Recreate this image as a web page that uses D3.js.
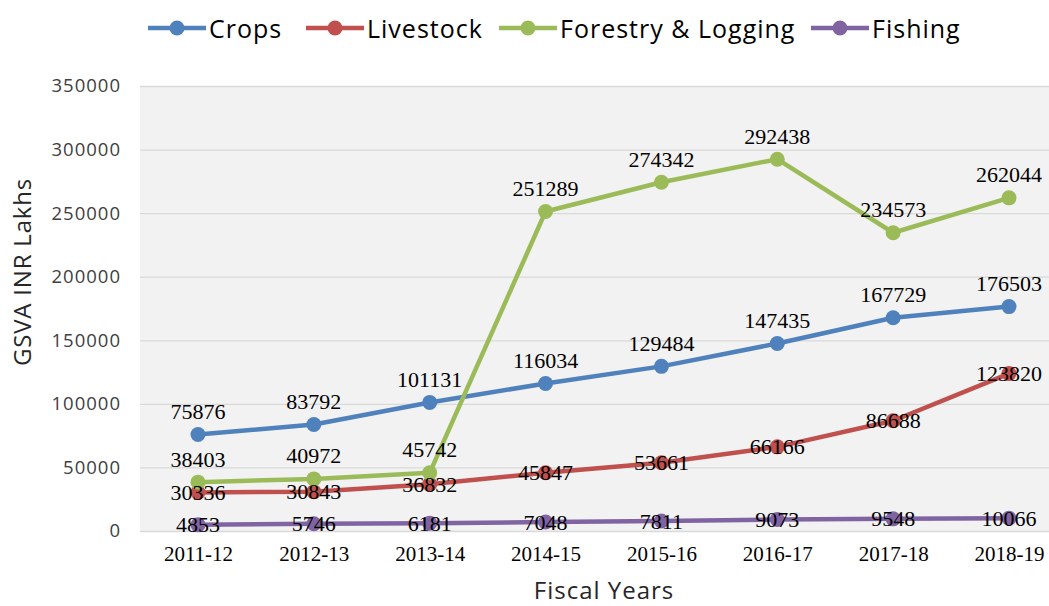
<!DOCTYPE html>
<html lang="en">
    <head>
        <meta charset="utf-8">
        <title>GSVA by sector</title>
        <script src="https://cdn.jsdelivr.net/npm/d3@7"></script>
        <style type="text/css">
            body { margin: 0; background: #fff; }
        </style>
    </head>
    <body>
        <script type="text/javascript">
            // data
            var years = ['2011-12', '2012-13', '2013-14', '2014-15', '2015-16', '2016-17', '2017-18', '2018-19'];
            var crops = [75876, 83792, 101131, 116034, 129484, 147435, 167729, 176503];
            var livestock = [30336, 30843, 36832, 45847, 53661, 66166, 86688, 123820];
            var forestry = [38403, 40972, 45742, 251289, 274342, 292438, 234573, 262044];
            var fishing = [4853, 5746, 6181, 7048, 7811, 9073, 9548, 10066];
            var yTicks = [0, 50000, 100000, 150000, 200000, 250000, 300000, 350000];

            var series = [
              {name: 'Crops', values: crops, color: '#4f81bd', label: 'above'},
              {name: 'Livestock', values: livestock, color: '#c0504d', label: 'center'},
              {name: 'Forestry & Logging', values: forestry, color: '#9bbb59', label: 'above'},
              {name: 'Fishing', values: fishing, color: '#8064a2', label: 'center'}
            ];

            var w = 1049;
            var h = 606;
            // plot area edges (note: "top" clashes with window.top)
            var plotLeft = 140, plotTop = 86, plotBottom = 531;

            var svg = d3.select('body').append('svg')
                        .attr('width', w)
                        .attr('height', h);

            var xScale = d3.scalePoint()
                          .domain(years)
                          .range([198, 1009]);
            var yScale = d3.scaleLinear()
                          .domain([0, 350000])
                          .range([plotBottom, plotTop]);

            // plot area
            svg.append('rect')
               .attr('x', plotLeft).attr('y', plotTop)
               .attr('width', w - plotLeft).attr('height', plotBottom - plotTop)
               .attr('fill', '#f2f2f2');

            // gridlines + y tick labels
            var yAxis = d3.axisLeft(yScale)
                          .tickValues(yTicks)
                          .tickSize(-(w - plotLeft))
                          .tickPadding(19)
                          .tickFormat(d3.format('d'));
            var gy = svg.append('g')
                        .attr('transform', 'translate(' + plotLeft + ',0)')
                        .call(yAxis);
            gy.select('.domain').remove();
            gy.selectAll('line').attr('stroke', '#d9d9d9').attr('stroke-width', 1.3);
            gy.selectAll('text')
              .attr('fill', '#404040')
              .attr('font-family', 'Open Sans, sans-serif')
              .attr('font-size', '18.5px')
              .attr('letter-spacing', '1px');

            // x axis labels
            var xAxis = d3.axisBottom(xScale).tickSize(0).tickPadding(15);
            var gx = svg.append('g')
                        .attr('transform', 'translate(0,' + plotBottom + ')')
                        .call(xAxis);
            gx.select('.domain').remove();
            gx.selectAll('text')
              .attr('fill', '#000')
              .attr('font-family', 'Liberation Serif, serif')
              .attr('font-size', '21px');

            // lines, markers
            var line = d3.line()
                         .x(function(d, i) { return xScale(years[i]); })
                         .y(function(d) { return yScale(d); });

            series.forEach(function(s) {
              var g = svg.append('g');
              g.append('path')
               .datum(s.values)
               .attr('d', line)
               .attr('fill', 'none')
               .attr('stroke', s.color)
               .attr('stroke-width', 4.5)
               .attr('stroke-linejoin', 'round');

              g.selectAll('circle')
               .data(s.values)
               .enter()
               .append('circle')
               .attr('cx', function(d, i) { return xScale(years[i]); })
               .attr('cy', function(d) { return yScale(d); })
               .attr('r', 7.5)
               .attr('fill', s.color);
            });

            // data labels
            series.forEach(function(s) {
              svg.append('g').selectAll('text')
                 .data(s.values)
                 .enter()
                 .append('text')
                 .text(function(d) { return d; })
                 .attr('x', function(d, i) { return xScale(years[i]); })
                 .attr('y', function(d) { return yScale(d) - (s.label == 'above' ? 23 : 0); })
                 .attr('dominant-baseline', 'central')
                 .attr('text-anchor', 'middle')
                 .attr('fill', '#000')
                 .attr('font-family', 'Liberation Serif, serif')
                 .attr('font-size', '22px');
            });

            // axis titles
            svg.append('text')
               .text('GSVA INR Lakhs')
               .attr('transform', 'translate(31,272) rotate(-90)')
               .attr('text-anchor', 'middle')
               .attr('fill', '#262626')
               .attr('font-family', 'Open Sans, sans-serif')
               .attr('font-size', '24px')
               .attr('letter-spacing', '0.8px');
            svg.append('text')
               .text('Fiscal Years')
               .attr('x', 604).attr('y', 599)
               .attr('text-anchor', 'middle')
               .attr('fill', '#262626')
               .attr('font-family', 'Open Sans, sans-serif')
               .attr('font-size', '24px')
               .attr('letter-spacing', '1px');

            // legend
            var legendX = [148, 306, 499, 811];
            var lg = svg.append('g');
            series.forEach(function(s, i) {
              var g = lg.append('g').attr('transform', 'translate(' + legendX[i] + ',28)');
              g.append('line')
               .attr('x1', 0).attr('x2', 58)
               .attr('stroke', s.color)
               .attr('stroke-width', 4.5);
              g.append('circle')
               .attr('cx', 29).attr('r', 7.5)
               .attr('fill', s.color);
              g.append('text')
               .text(s.name)
               .attr('x', 61)
               .attr('dominant-baseline', 'central')
               .attr('fill', '#000')
               .attr('font-family', 'Open Sans, sans-serif')
               .attr('font-size', '25px')
               .attr('letter-spacing', '1px');
            });
        </script>
    </body>
</html>
